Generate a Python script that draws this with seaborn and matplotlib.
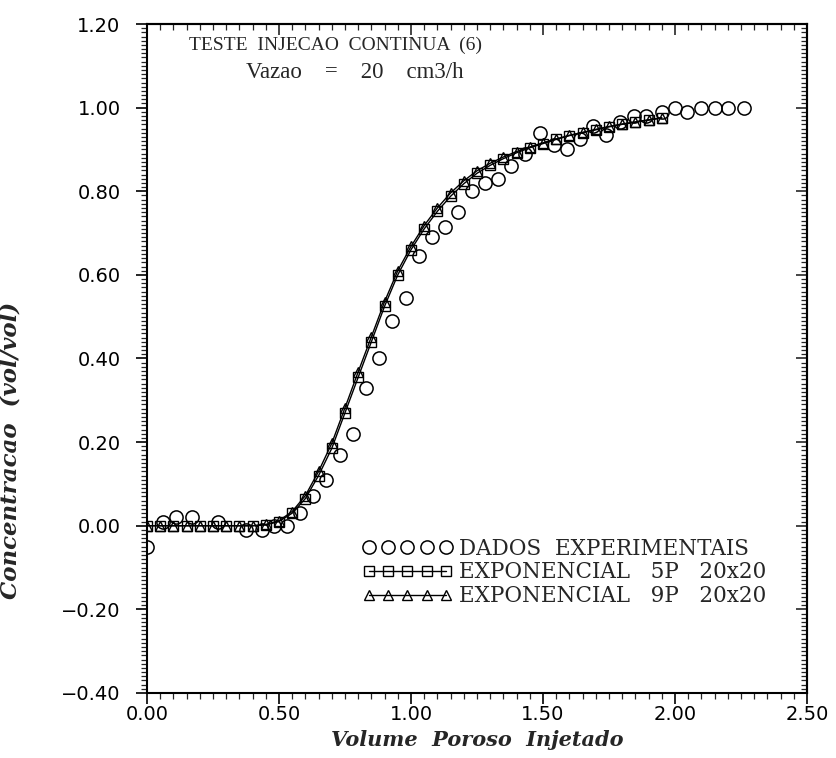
import matplotlib
matplotlib.use("Agg")
import matplotlib.pyplot as plt
from matplotlib.ticker import MultipleLocator, FuncFormatter
import seaborn as sns

# Experimental breakthrough data (pore volumes injected vs. concentration)
exp_x = [0.00, 0.06, 0.11, 0.17, 0.27, 0.375, 0.435, 0.48, 0.53, 0.58,
         0.63, 0.68, 0.73, 0.78, 0.83, 0.88, 0.93, 0.98, 1.03, 1.08,
         1.13, 1.18, 1.23, 1.28, 1.33, 1.38, 1.43, 1.49, 1.54, 1.59,
         1.64, 1.69, 1.74, 1.79, 1.845, 1.89, 1.95, 2.00, 2.045, 2.10,
         2.15, 2.20, 2.26]
exp_y = [-0.05, 0.01, 0.02, 0.02, 0.01, -0.01, -0.01, 0.00, 0.00, 0.03,
         0.07, 0.11, 0.17, 0.22, 0.33, 0.40, 0.49, 0.545, 0.645, 0.69,
         0.715, 0.75, 0.80, 0.82, 0.83, 0.86, 0.89, 0.94, 0.91, 0.90,
         0.925, 0.955, 0.935, 0.965, 0.98, 0.98, 0.99, 1.00, 0.99, 1.00,
         1.00, 1.00, 1.00]

# Simulated curves (exponential scheme, 20x20 grid)
fit_x = [0.00, 0.05, 0.10, 0.15, 0.20, 0.25, 0.30, 0.35, 0.40, 0.45,
         0.50, 0.55, 0.60, 0.65, 0.70, 0.75, 0.80, 0.85, 0.90, 0.95,
         1.00, 1.05, 1.10, 1.15, 1.20, 1.25, 1.30, 1.35, 1.40, 1.45,
         1.50, 1.55, 1.60, 1.65, 1.70, 1.75, 1.80, 1.85, 1.90, 1.95]
fit_5p = [0.000, 0.000, 0.000, 0.000, 0.000, 0.000, 0.000, 0.000, 0.000, 0.002,
          0.010, 0.030, 0.065, 0.120, 0.185, 0.270, 0.355, 0.440, 0.525, 0.600,
          0.660, 0.710, 0.752, 0.788, 0.818, 0.843, 0.862, 0.878, 0.892, 0.904,
          0.914, 0.924, 0.933, 0.940, 0.947, 0.954, 0.960, 0.965, 0.970, 0.975]
fit_9p = [0.000, 0.000, 0.000, 0.000, 0.000, 0.000, 0.000, 0.000, 0.000, 0.003,
          0.012, 0.034, 0.072, 0.130, 0.197, 0.282, 0.368, 0.452, 0.536, 0.610,
          0.668, 0.718, 0.760, 0.796, 0.825, 0.849, 0.867, 0.882, 0.895, 0.906,
          0.916, 0.925, 0.934, 0.941, 0.948, 0.955, 0.961, 0.966, 0.971, 0.976]

labels = ["DADOS  EXPERIMENTAIS", "EXPONENCIAL   5P   20x20", "EXPONENCIAL   9P   20x20"]

sns.set_style("ticks")
plt.rcParams["font.family"] = ["DejaVu Sans"]

fig = plt.figure(figsize=(8.36, 7.58), dpi=100)
ax = fig.add_axes([0.1758, 0.0858, 0.7895, 0.8825])

sns.lineplot(x=exp_x, y=exp_y, ax=ax, estimator=None, sort=False,
             color="black", linestyle="none", marker="o", markersize=9.5,
             markerfacecolor="none", markeredgecolor="black",
             markeredgewidth=1.1, label=labels[0])
sns.lineplot(x=fit_x, y=fit_5p, ax=ax, estimator=None, sort=False,
             color="black", linewidth=1.0, marker="s", markersize=6.5,
             markerfacecolor="none", markeredgecolor="black",
             markeredgewidth=1.0, label=labels[1])
sns.lineplot(x=fit_x, y=fit_9p, ax=ax, estimator=None, sort=False,
             color="black", linewidth=1.0, marker="^", markersize=6.5,
             markerfacecolor="none", markeredgecolor="black",
             markeredgewidth=1.0, label=labels[2])

ax.set_xlim(0, 2.5)
ax.set_ylim(-0.4, 1.2)

fmt = FuncFormatter(lambda v, p: f"{v:.2f}".replace("-", "\u2212"))
ax.xaxis.set_major_locator(MultipleLocator(0.5))
ax.xaxis.set_minor_locator(MultipleLocator(0.05))
ax.yaxis.set_major_locator(MultipleLocator(0.2))
ax.yaxis.set_minor_locator(MultipleLocator(0.01))
ax.xaxis.set_major_formatter(fmt)
ax.yaxis.set_major_formatter(fmt)

ax.tick_params(axis="both", which="major", direction="out", length=8,
               width=1.2, labelsize=14, colors="black")
ax.tick_params(axis="both", which="minor", direction="out", length=4,
               width=0.9)
ax.tick_params(axis="x", which="major", pad=1)
ax.tick_params(axis="y", which="major", pad=11)
for s in ax.spines.values():
    s.set_visible(True)
    s.set_linewidth(1.5)
    s.set_color("black")

# Top and right rulers with inward ticks
top = ax.secondary_xaxis("top")
top.xaxis.set_major_locator(MultipleLocator(0.5))
top.xaxis.set_minor_locator(MultipleLocator(0.05))
top.tick_params(which="major", direction="in", length=8, width=1.2, labeltop=False)
top.tick_params(which="minor", direction="in", length=4, width=0.9)
top.spines["top"].set_linewidth(1.5)
right = ax.secondary_yaxis("right")
right.yaxis.set_major_locator(MultipleLocator(0.2))
right.yaxis.set_minor_locator(MultipleLocator(0.01))
right.tick_params(which="major", direction="in", length=8, width=1.2, labelright=False)
right.tick_params(which="minor", direction="in", length=4, width=0.9)
right.spines["right"].set_linewidth(1.5)

ax.set_xlabel("Volume  Poroso  Injetado", family="DejaVu Serif",
              style="italic", weight="bold", fontsize=15)
ax.xaxis.set_label_coords(0.5, -0.055)
ax.set_ylabel("Concentracao  (vol/vol)", family="DejaVu Serif",
              style="italic", weight="bold", fontsize=16.5)
ax.yaxis.set_label_coords(-0.19, 0.363)

ax.text(0.286, 0.9686, "TESTE  INJECAO  CONTINUA  (6)",
        transform=ax.transAxes, ha="center", va="center",
        family="Liberation Serif", fontsize=14)
ax.text(0.315, 0.928, "Vazao    =    20    cm3/h",
        transform=ax.transAxes, ha="center", va="center",
        family="Liberation Serif", fontsize=16.5)

handles, labs = ax.get_legend_handles_labels()
ax.legend(handles, labs, numpoints=5, handlelength=4.2, loc="upper left",
          bbox_to_anchor=(0.326, 0.232), frameon=False,
          prop={"family": "DejaVu Serif", "size": 15.5},
          handletextpad=0.3, labelspacing=0.08, borderpad=0, borderaxespad=0)

fig.savefig("out.png", dpi=100, facecolor="white")
